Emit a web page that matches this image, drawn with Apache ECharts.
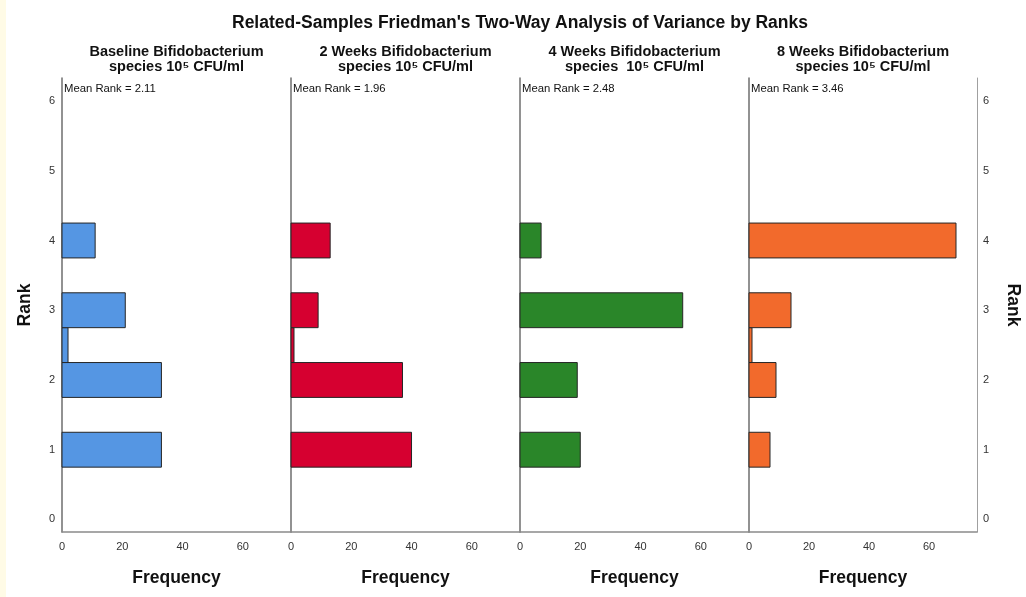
<!DOCTYPE html>
<html>
<head>
<meta charset="utf-8">
<script src="https://cdn.jsdelivr.net/npm/echarts@6/dist/echarts.min.js"></script>
<style>
html,body{margin:0;padding:0;background:#fff;}
#chart{width:1026px;height:597px;}
</style>
</head>
<body>
<div id="chart"></div>
<script>
// ---- data ----
const rankBins = [1, 2, 2.5, 3, 4];
const baselineFreq = [33, 33, 2, 21, 11];
const week2Freq = [40, 37, 1, 9, 13];
const week4Freq = [20, 19, 0, 54, 7];
const week8Freq = [7, 9, 1, 14, 69];
const panelTitles = [
  'Baseline Bifidobacterium\nspecies 10\u2075 CFU/ml',
  '2 Weeks Bifidobacterium\nspecies 10\u2075 CFU/ml',
  '4 Weeks Bifidobacterium\nspecies  10\u2075 CFU/ml',
  '8 Weeks Bifidobacterium\nspecies 10\u2075 CFU/ml'
];
const meanRanks = ['2.11', '1.96', '2.48', '3.46'];
const xTickValues = [0, 20, 40, 60];
const yTickValues = [0, 1, 2, 3, 4, 5, 6];
const panelColors = ['#5596e3', '#d60030', '#2a8629', '#f26a2c'];
const mainTitle = "Related-Samples Friedman's Two-Way Analysis of Variance by Ranks";

const freqs = [baselineFreq, week2Freq, week4Freq, week8Freq];
const FONT = '"Liberation Sans", Arial, sans-serif';
const lefts = [62, 291, 520, 749];
const widths = [229, 229, 229, 228];
const gridTop = 78, gridBottom = 597 - 532;

const grids = [], xAxes = [], yAxes = [], series = [], titles = [];
titles.push({
  text: mainTitle, left: 520, top: 14, textAlign: 'center', padding: 0,
  textStyle: {fontFamily: FONT, fontSize: 17.5, fontWeight: 'bold', color: '#111'}
});
for (let i = 0; i < 4; i++) {
  grids.push({left: lefts[i], width: widths[i], top: gridTop, bottom: gridBottom, containLabel: false});
  xAxes.push({
    type: 'value', gridIndex: i, min: 0, max: 76,
    name: 'Frequency', nameLocation: 'middle', nameGap: 37,
    nameTextStyle: {fontFamily: FONT, fontSize: 17.5, fontWeight: 'bold', color: '#111'},
    axisLine: {show: true, onZero: false, lineStyle: {color: '#8a8a8a', width: 1.5}},
    axisTick: {show: false},
    splitLine: {show: false},
    axisLabel: {customValues: xTickValues, fontFamily: FONT, fontSize: 11, color: '#333', margin: 9}
  });
  yAxes.push({
    type: 'value', gridIndex: i, min: -0.18, max: 6.33, position: 'left',
    name: i === 0 ? 'Rank' : '', nameLocation: 'middle', nameGap: 28,
    nameTextStyle: {fontFamily: FONT, fontSize: 17.5, fontWeight: 'bold', color: '#111'},
    axisLine: {show: true, onZero: false, lineStyle: {color: '#6e6e6e', width: 1.5}},
    axisTick: {show: false},
    splitLine: {show: false},
    axisLabel: {show: i === 0, customValues: yTickValues, fontFamily: FONT, fontSize: 11, color: '#333', margin: 7}
  });
  series.push({
    type: 'custom', xAxisIndex: i, yAxisIndex: i,
    data: rankBins.map((r, k) => [freqs[i][k], r]).filter(d => d[0] > 0),
    renderItem: function (params, api) {
      const v = api.value(0), r = api.value(1);
      const p0 = api.coord([0, r - 0.25]);
      const p1 = api.coord([v, r + 0.25]);
      return {
        type: 'rect',
        shape: {x: p0[0], y: p1[1], width: p1[0] - p0[0], height: p0[1] - p1[1]},
        style: {fill: panelColors[i], stroke: '#262626', lineWidth: 1}
      };
    },
    silent: true, animation: false
  });
  titles.push({
    text: panelTitles[i], left: lefts[i] + widths[i] / 2, top: 44, textAlign: 'center', padding: 0,
    textStyle: {fontFamily: FONT, fontSize: 14.5, fontWeight: 'bold', color: '#111', lineHeight: 15}
  });
  titles.push({
    text: 'Mean Rank = ' + meanRanks[i], left: lefts[i] + 2, top: 83, padding: 0,
    textStyle: {fontFamily: FONT, fontSize: 11.3, fontWeight: 'normal', color: '#111'}
  });
}
// right-hand rank axis on the last panel
yAxes.push({
  type: 'value', gridIndex: 3, min: -0.18, max: 6.33, position: 'right',
  name: 'Rank', nameLocation: 'middle', nameGap: 27, nameRotate: -90,
  nameTextStyle: {fontFamily: FONT, fontSize: 17.5, fontWeight: 'bold', color: '#111'},
  axisLine: {show: true, onZero: false, lineStyle: {color: '#a0a0a0', width: 1}},
  axisTick: {show: false},
  splitLine: {show: false},
  axisLabel: {customValues: yTickValues, fontFamily: FONT, fontSize: 11, color: '#333', margin: 6}
});

const chart = echarts.init(document.getElementById('chart'), null, {renderer: 'canvas'});
chart.setOption({
  backgroundColor: '#ffffff',
  animation: false,
  title: titles,
  grid: grids,
  xAxis: xAxes,
  yAxis: yAxes,
  series: series,
  graphic: [{
    type: 'rect', left: 0, top: 0, shape: {width: 6, height: 597},
    style: {fill: '#fffbe6'}, silent: true
  }]
});
</script>
</body>
</html>
